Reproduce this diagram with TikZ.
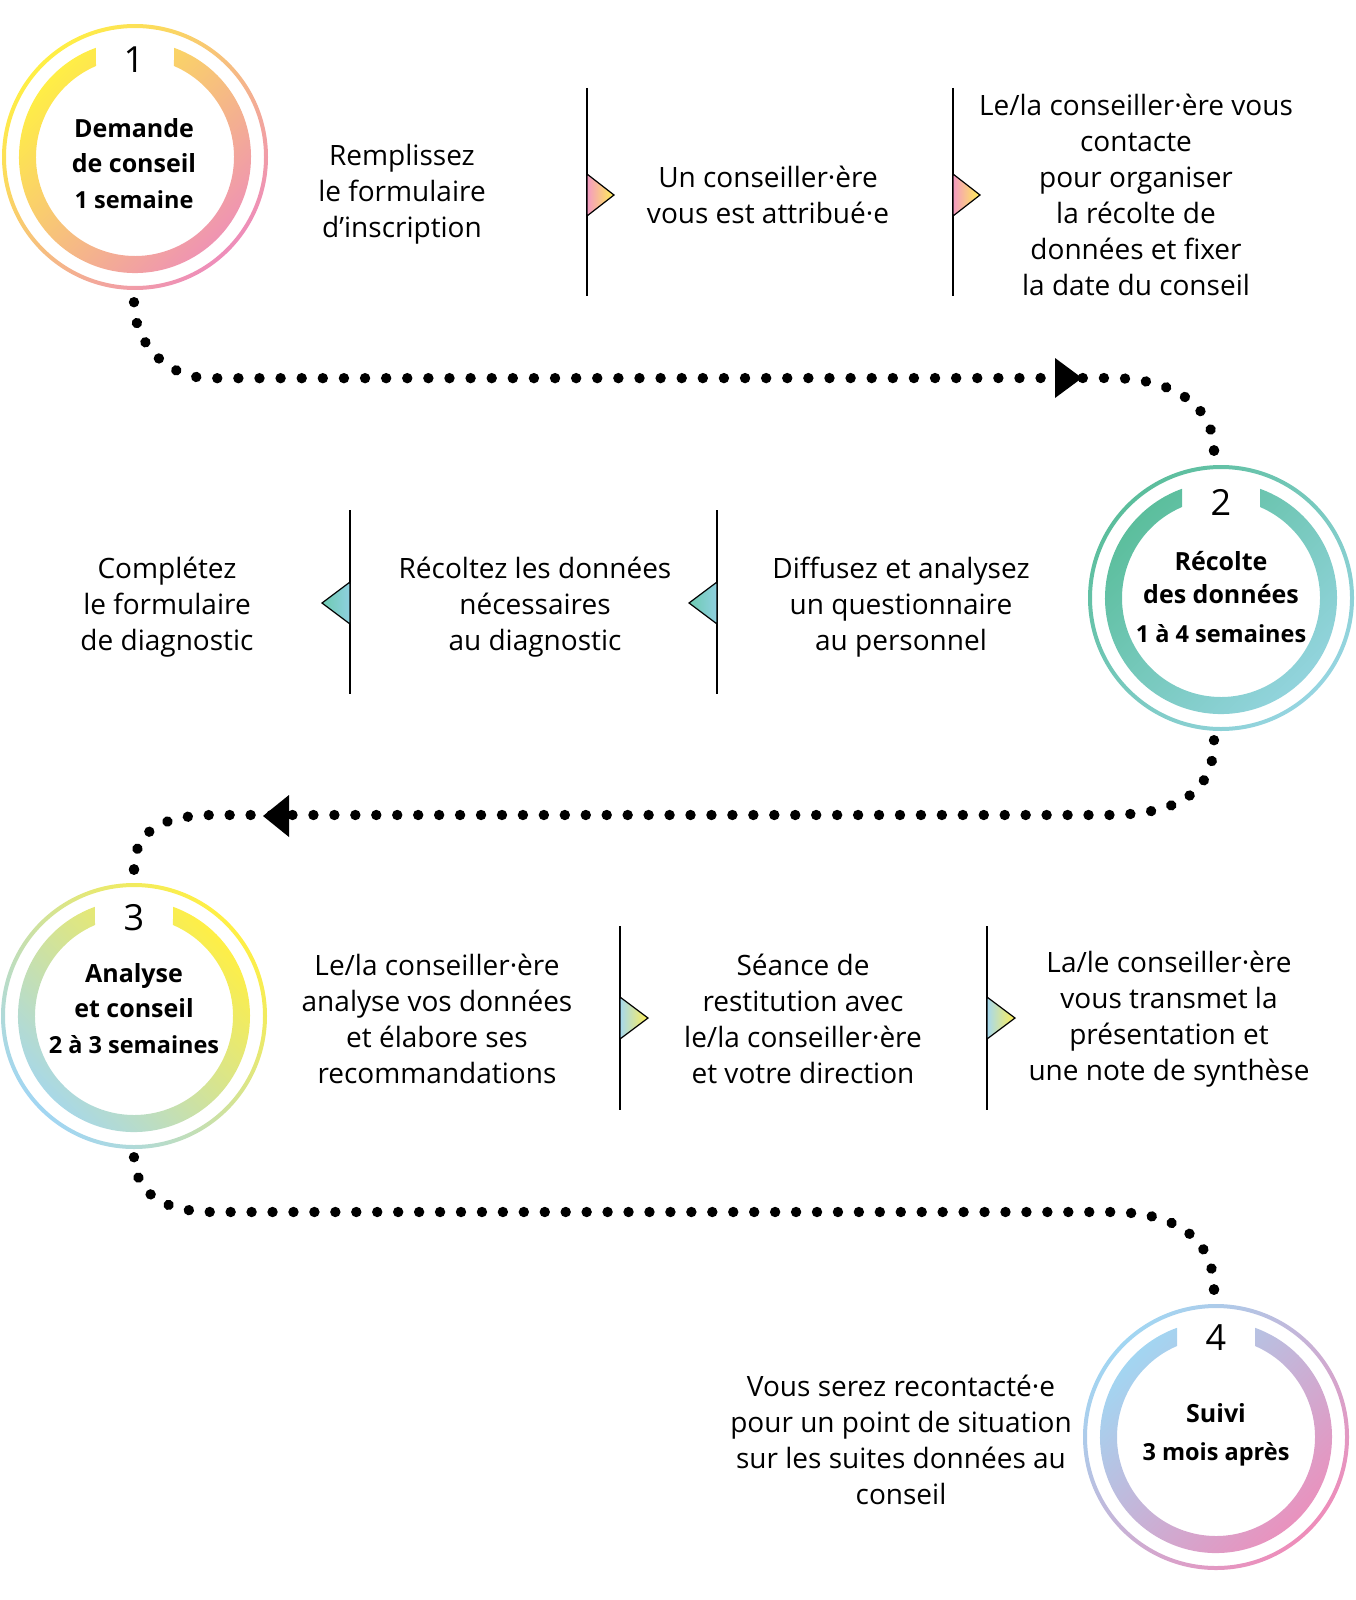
\documentclass[tikz,border=0pt]{standalone}
\usepackage{fontspec}
\setmainfont{Open Sans}
\usetikzlibrary{decorations.markings}
\definecolor{cyel}{HTML}{FFEF45}
\definecolor{cpink}{HTML}{EE8DBA}
\definecolor{cgreen}{HTML}{5BBE9C}
\definecolor{cteal}{HTML}{96D5E1}
\definecolor{cblue}{HTML}{A2D6F2}
\definecolor{tpink}{HTML}{F49AC2}
\definecolor{tyel}{HTML}{FFEF55}
\definecolor{tgreen}{HTML}{6DCBB1}
\definecolor{tblue}{HTML}{8FD0E0}
\definecolor{tlblue}{HTML}{A6D8EE}
\tikzset{
  bodytxt/.style={align=center, font=\fontsize{28}{36}\selectfont, inner sep=0pt},
  titletxt/.style={font=\bfseries\fontsize{25}{30}\selectfont, anchor=base, inner sep=0pt},
  subtxt/.style={font=\bfseries\fontsize{23.5}{28}\selectfont, anchor=base, inner sep=0pt},
  numtxt/.style={font=\fontsize{36}{40}\selectfont, anchor=base, inner sep=0pt},
  sepline/.style={line width=1.5pt, draw=black},
  dotpath/.style={postaction={decorate}, decoration={markings,
      mark=between positions 0 and 1 step 0.01818 with {\fill[black] (0,0) circle[radius=5.2pt];},
      mark=at position 0.99995 with {\fill[black] (0,0) circle[radius=5.2pt];}}},
  tri/.style={draw=black, line width=1.2pt, line join=miter},
  arrowtri/.style={fill=black},
}
\newcommand{\stepcircle}[6]{%
  \begin{scope}[shift={(#2,#3)}]
    \shade[top color=#4, bottom color=#5, shading angle=#6, even odd rule]
      (0,0) circle[radius=133] (0,0) circle[radius=129];
    \shade[top color=#4, bottom color=#5, shading angle=#6]
      (39,109.2) arc[start angle=70.35, end angle=-250.35, radius=116]
      -- (-39,91.0) arc[start angle=113.2, end angle=426.8, radius=99] -- cycle;
  \end{scope}
  \node[circle, minimum size=266pt, inner sep=0pt] (#1) at (#2,#3) {};
}
\begin{document}
\begin{tikzpicture}[x=1pt,y=1pt]
\useasboundingbox (0,0) rectangle (1356,-1600);

% circles
\stepcircle{c1}{135}{-157}{cyel}{cpink}{45}
\stepcircle{c2}{1221}{-598}{cgreen}{cteal}{45}
\stepcircle{c3}{134}{-1016}{cyel}{cblue}{-45}
\stepcircle{c4}{1216}{-1437}{cblue}{cpink}{45}

% circle texts
\node[numtxt] (n1) at (134,-73) {1};
\node[titletxt] (c1a) at (134,-138) {Demande};
\node[titletxt] (c1b) at (134,-172) {de conseil};
\node[subtxt] (c1c) at (134,-208) {1 semaine};

\node[numtxt] (n2) at (1221,-515) {2};
\node[titletxt] (c2a) at (1221,-570) {Récolte};
\node[titletxt] (c2b) at (1221,-603) {des données};
\node[subtxt] (c2c) at (1221,-642) {1 à 4 semaines};

\node[numtxt] (n3) at (134,-930) {3};
\node[titletxt] (c3a) at (134,-982) {Analyse};
\node[titletxt] (c3b) at (134,-1017) {et conseil};
\node[subtxt] (c3c) at (134,-1053) {2 à 3 semaines};

\node[numtxt] (n4) at (1216,-1350) {4};
\node[titletxt] (c4a) at (1216,-1422) {Suivi};
\node[subtxt] (c4b) at (1216,-1460) {3 mois après};

% row 1
\node[bodytxt] (t1a) at (402,-194) {Remplissez\\le formulaire\\d’inscription};
\node[bodytxt] (t1b) at (768,-195) {Un conseiller·ère\\vous est attribué·e};
\node[bodytxt] (t1c) at (1136,-195) {Le/la conseiller·ère vous\\contacte\\pour organiser\\la récolte de\\données et fixer\\la date du conseil};
\draw[sepline] (587,-88) -- (587,-296);
\draw[sepline] (953,-88) -- (953,-296);
\shadedraw[left color=tpink, right color=tyel, tri] (587,-174) -- (614,-195) -- (587,-216) -- cycle;
\shadedraw[left color=tpink, right color=tyel, tri] (953,-174) -- (980,-195) -- (953,-216) -- cycle;

% row 2
\node[bodytxt] (t2a) at (167,-607) {Complétez\\le formulaire\\de diagnostic};
\node[bodytxt] (t2b) at (535,-607) {Récoltez les données\\nécessaires\\au diagnostic};
\node[bodytxt] (t2c) at (901,-607) {Diffusez et analysez\\un questionnaire\\au personnel};
\draw[sepline] (350,-510) -- (350,-694);
\draw[sepline] (717,-510) -- (717,-694);
\shadedraw[left color=tgreen, right color=tblue, tri] (350,-582) -- (322,-603) -- (350,-624) -- cycle;
\shadedraw[left color=tgreen, right color=tblue, tri] (717,-582) -- (689,-603) -- (717,-624) -- cycle;

% row 3
\node[bodytxt] (t3a) at (437,-1019) {Le/la conseiller·ère\\analyse vos données\\et élabore ses\\recommandations};
\node[bodytxt] (t3b) at (803,-1019) {Séance de\\restitution avec\\le/la conseiller·ère\\et votre direction};
\node[bodytxt] (t3c) at (1169,-1019) {La/le conseiller·ère\\vous transmet la\\présentation et\\une note de synthèse};
\draw[sepline] (620,-926) -- (620,-1110);
\draw[sepline] (987,-926) -- (987,-1110);
\shadedraw[left color=tlblue, right color=tyel, tri] (620,-997) -- (648,-1018) -- (620,-1039) -- cycle;
\shadedraw[left color=tlblue, right color=tyel, tri] (987,-997) -- (1015,-1018) -- (987,-1039) -- cycle;

% row 4
\node[bodytxt] (t4) at (901,-1440) {Vous serez recontacté·e\\pour un point de situation\\sur les suites données au\\conseil};

% dotted connectors
\path[dotpath] ([xshift=-1pt,yshift=-12pt]c1.south) arc[start angle=180, end angle=270, radius=76]
  -- (1110,-378) .. controls (1172,-378) and (1214,-405) .. ([xshift=-7pt,yshift=14pt]c2.north);
\fill[arrowtri] (1055,-358) -- (1082,-378) -- (1055,-398) -- cycle;

\path[dotpath] ([xshift=-7pt,yshift=-9pt]c2.south) .. controls (1214,-795) and (1175,-815) .. (1105,-815)
  -- (215,-815) .. controls (160,-815) and (134,-832) .. ([yshift=13pt]c3.north);
\fill[arrowtri] (289,-795) -- (263,-816) -- (289,-837) -- cycle;

\path[dotpath] ([yshift=-8pt]c3.south) .. controls (136,-1195) and (165,-1212) .. (215,-1212)
  -- (1110,-1212) .. controls (1178,-1212) and (1214,-1240) .. ([xshift=-2pt,yshift=14pt]c4.north);
\end{tikzpicture}
\end{document}
